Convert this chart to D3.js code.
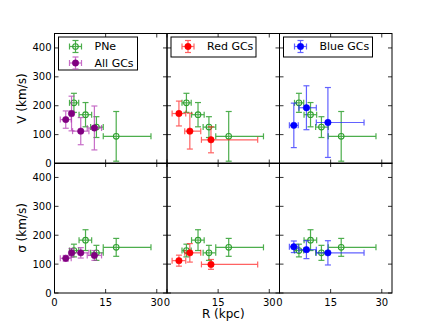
<!DOCTYPE html>
<html>
<head>
<meta charset="utf-8">
<script src="https://cdn.jsdelivr.net/npm/d3@7"></script>
<style>
  body { margin: 0; background: #fff; }
  svg { font-family: "DejaVu Sans", sans-serif; }
</style>
</head>
<body>
<div id="chart"></div>
<script>
// PNe (shown in every panel)
const pneR = [5.7, 9.1, 12.3, 18.1];
const pneRlo = [1.3, 1.9, 1.7, 3.8];
const pneRhi = [1.4, 1.8, 2.0, 10.2];
const pneV = [210, 169, 126, 94];
const pneVerr = [33, 42, 36, 86];
const pneSig = [147, 183, 139, 158];
const pneSigErr = [22, 36, 26, 31];

// All GCs
const allR = [3.3, 5.0, 7.7, 11.7];
const allRlo = [1.6, 0.6, 2.4, 2.1];
const allRhi = [1.6, 0.6, 2.4, 2.1];
const allV = [152, 173, 112, 123];
const allVerr = [30, 60, 47, 76];
const allSig = [120, 139, 139, 130];
const allSigErr = [10, 15, 18, 17];

// Red GCs
const redR = [3.5, 6.7, 12.9];
const redRlo = [2.0, 1.5, 2.8];
const redRhi = [2.0, 3.2, 13.7];
const redV = [173, 112, 82];
const redVerr = [43, 62, 45];
const redSig = [112, 139, 99];
const redSigErr = [19, 32, 17];

// Blue GCs
const blueR = [4.2, 7.9, 14.2];
const blueRlo = [1.3, 2.2, 3.4];
const blueRhi = [1.3, 2.9, 10.6];
const blueV = [132, 193, 142];
const blueVerr = [77, 76, 121];
const blueSig = [160, 150, 139];
const blueSigErr = [20, 31, 42];

const xTicks = [0, 15, 30];
const yTicks = [0, 100, 200, 300, 400];

const width = 436, height = 327;
const colLeft = [54.5, 167, 279.5];
const panelW = 112.5;
const rowTop = [33.5, 163];
const panelH = 130;

const svg = d3.select("#chart").append("svg")
    .attr("width", width)
    .attr("height", height);

function pts(R, Rlo, Rhi, Y, Yerr) {
    return R.map((r, i) => ({r: r, rlo: r - Rlo[i], rhi: r + Rhi[i], y: Y[i], ylo: Y[i] - Yerr[i], yhi: Y[i] + Yerr[i]}));
}

const pne = {name: "PNe", color: "#2ea02e", bar: "#2ea02e", open: true,
    top: pts(pneR, pneRlo, pneRhi, pneV, pneVerr), bot: pts(pneR, pneRlo, pneRhi, pneSig, pneSigErr)};
const gcs = [
    {name: "All GCs", color: "#800080", bar: "#b030b0",
        top: pts(allR, allRlo, allRhi, allV, allVerr), bot: pts(allR, allRlo, allRhi, allSig, allSigErr)},
    {name: "Red GCs", color: "#ff0000", bar: "#ff2020",
        top: pts(redR, redRlo, redRhi, redV, redVerr), bot: pts(redR, redRlo, redRhi, redSig, redSigErr)},
    {name: "Blue GCs", color: "#0000ff", bar: "#2020ff",
        top: pts(blueR, blueRlo, blueRhi, blueV, blueVerr), bot: pts(blueR, blueRlo, blueRhi, blueSig, blueSigErr)}
];

const cap = 3;

function drawSeries(g, x, y, data, s) {
    const grp = g.append("g");
    const e = grp.selectAll(".eb").data(data).join("g")
        .attr("stroke", s.bar)
        .attr("stroke-width", 1.2)
        .attr("opacity", s.open ? 0.85 : 0.7);
    e.append("line").attr("x1", d => x(d.rlo)).attr("x2", d => x(d.rhi))
        .attr("y1", d => y(d.y)).attr("y2", d => y(d.y));
    e.append("line").attr("x1", d => x(d.r)).attr("x2", d => x(d.r))
        .attr("y1", d => y(d.ylo)).attr("y2", d => y(d.yhi));
    // caps
    e.append("line").attr("x1", d => x(d.rlo)).attr("x2", d => x(d.rlo))
        .attr("y1", d => y(d.y) - cap).attr("y2", d => y(d.y) + cap);
    e.append("line").attr("x1", d => x(d.rhi)).attr("x2", d => x(d.rhi))
        .attr("y1", d => y(d.y) - cap).attr("y2", d => y(d.y) + cap);
    e.append("line").attr("x1", d => x(d.r) - cap).attr("x2", d => x(d.r) + cap)
        .attr("y1", d => y(d.ylo)).attr("y2", d => y(d.ylo));
    e.append("line").attr("x1", d => x(d.r) - cap).attr("x2", d => x(d.r) + cap)
        .attr("y1", d => y(d.yhi)).attr("y2", d => y(d.yhi));
    grp.selectAll("circle").data(data).join("circle")
        .attr("cx", d => x(d.r)).attr("cy", d => y(d.y))
        .attr("r", s.open ? 2.8 : 3.2)
        .attr("fill", s.open ? "none" : s.color)
        .attr("stroke", s.color)
        .attr("stroke-width", s.open ? 1.1 : 0.6);
}

function legendIcon(g, cx, cy, s) {
    const ic = g.append("g").attr("stroke", s.bar).attr("stroke-width", 1.2)
        .attr("opacity", s.open ? 0.85 : 0.7);
    ic.append("line").attr("x1", cx - 6).attr("x2", cx + 6).attr("y1", cy).attr("y2", cy);
    ic.append("line").attr("x1", cx).attr("x2", cx).attr("y1", cy - 6).attr("y2", cy + 6);
    ic.append("line").attr("x1", cx - 6).attr("x2", cx - 6).attr("y1", cy - cap).attr("y2", cy + cap);
    ic.append("line").attr("x1", cx + 6).attr("x2", cx + 6).attr("y1", cy - cap).attr("y2", cy + cap);
    ic.append("line").attr("x1", cx - cap).attr("x2", cx + cap).attr("y1", cy - 6).attr("y2", cy - 6);
    ic.append("line").attr("x1", cx - cap).attr("x2", cx + cap).attr("y1", cy + 6).attr("y2", cy + 6);
    g.append("circle").attr("cx", cx).attr("cy", cy)
        .attr("r", s.open ? 2.8 : 3.2)
        .attr("fill", s.open ? "none" : s.color)
        .attr("stroke", s.color)
        .attr("stroke-width", s.open ? 1.1 : 0.6);
}

for (let row = 0; row < 2; row++) {
    for (let col = 0; col < 3; col++) {
        const x0 = colLeft[col], y0 = rowTop[row];
        const x = d3.scaleLinear().domain([0, 33]).range([x0, x0 + panelW]);
        const y = d3.scaleLinear().domain([0, 450]).range([y0 + panelH, y0]);
        const g = svg.append("g");
        const key = row === 0 ? "top" : "bot";

        drawSeries(g, x, y, pne[key], pne);
        drawSeries(g, x, y, gcs[col][key], gcs[col]);

        // inside ticks on all sides
        const tk = g.append("g").attr("stroke", "#000").attr("stroke-width", 0.8);
        xTicks.forEach(t => {
            tk.append("line").attr("x1", x(t)).attr("x2", x(t)).attr("y1", y0 + panelH).attr("y2", y0 + panelH - 4);
            tk.append("line").attr("x1", x(t)).attr("x2", x(t)).attr("y1", y0).attr("y2", y0 + 4);
        });
        yTicks.forEach(t => {
            tk.append("line").attr("x1", x0).attr("x2", x0 + 4).attr("y1", y(t)).attr("y2", y(t));
            tk.append("line").attr("x1", x0 + panelW).attr("x2", x0 + panelW - 4).attr("y1", y(t)).attr("y2", y(t));
        });

        g.append("rect").attr("x", x0).attr("y", y0)
            .attr("width", panelW).attr("height", panelH)
            .attr("fill", "none").attr("stroke", "#000").attr("stroke-width", 1);

        if (col === 0) {
            g.selectAll(".yl").data(yTicks).join("text")
                .attr("x", x0 - 3).attr("y", d => y(d))
                .attr("dy", "0.35em").attr("text-anchor", "end")
                .attr("font-size", 10).text(d => d);
        }
        if (row === 1) {
            g.selectAll(".xl").data(xTicks).join("text")
                .attr("x", d => x(d)).attr("y", y0 + panelH + 13)
                .attr("text-anchor", "middle")
                .attr("font-size", 10).text(d => d);
        }

        // legend
        if (row === 0) {
            const items = col === 0 ? [pne, gcs[0]] : [gcs[col]];
            const lx = x0 + 4, ly = y0 + 3.5;
            const lw = col === 0 ? 79 : (col === 1 ? 85 : 89);
            const lh = col === 0 ? 33 : 20;
            const lg = g.append("g");
            lg.append("rect").attr("x", lx).attr("y", ly).attr("width", lw).attr("height", lh)
                .attr("fill", "#fff").attr("stroke", "#000").attr("stroke-width", 1);
            items.forEach((s, i) => {
                const cy = ly + 9.5 + i * 16.5;
                legendIcon(lg, lx + 17, cy, s);
                lg.append("text").attr("x", lx + 36).attr("y", cy).attr("dy", "0.35em")
                    .attr("font-size", 11).text(s.name);
            });
        }
    }
}

svg.append("text")
    .attr("transform", `translate(${colLeft[0] - 29},${rowTop[0] + panelH / 2}) rotate(-90)`)
    .attr("text-anchor", "middle").attr("font-size", 12).text("V (km/s)");
svg.append("text")
    .attr("transform", `translate(${colLeft[0] - 29},${rowTop[1] + panelH / 2}) rotate(-90)`)
    .attr("text-anchor", "middle").attr("font-size", 12).text("σ (km/s)");
svg.append("text")
    .attr("x", colLeft[0] + panelW * 1.5).attr("y", 318)
    .attr("text-anchor", "middle").attr("font-size", 12).text("R (kpc)");
</script>
</body>
</html>
